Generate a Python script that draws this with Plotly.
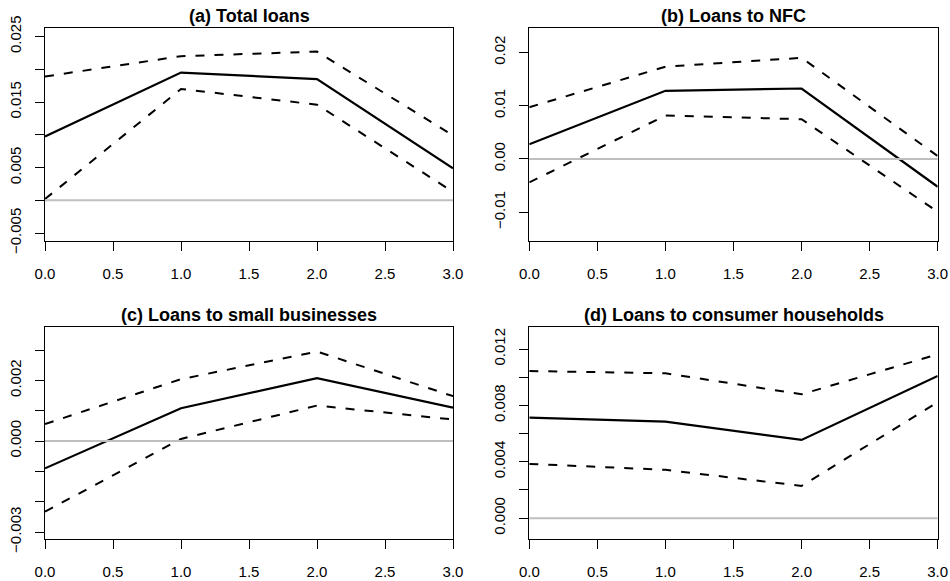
import plotly.graph_objects as go

W, H = 950, 581

# Horizon (quarters) shared by all four panels
horizon = [0, 1, 2, 3]

# (a) Total loans
a_est = [0.00975, 0.0195, 0.0185, 0.0049]
a_hi = [0.0189, 0.0220, 0.0227, 0.0099]
a_lo = [0.0002, 0.0170, 0.0146, 0.0013]

# (b) Loans to NFC
b_est = [0.00277, 0.0128, 0.01324, -0.00521]
b_hi = [0.00973, 0.01733, 0.0190, 0.00056]
b_lo = [-0.00439, 0.00816, 0.00747, -0.00992]

# (c) Loans to small businesses
c_est = [-0.00090, 0.00108, 0.00207, 0.00110]
c_hi = [0.00056, 0.00204, 0.00295, 0.00148]
c_lo = [-0.00233, 0.00007, 0.00117, 0.00071]

# (d) Loans to consumer households
d_est = [0.00713, 0.00685, 0.00555, 0.01009]
d_hi = [0.01044, 0.01028, 0.00879, 0.01162]
d_lo = [0.00385, 0.00343, 0.00229, 0.00822]

titles = ["(a) Total loans", "(b) Loans to NFC",
          "(c) Loans to small businesses", "(d) Loans to consumer households"]

x_ticks = [0, 0.5, 1, 1.5, 2, 2.5, 3]
x_labels = ["0.0", "0.5", "1.0", "1.5", "2.0", "2.5", "3.0"]

a_yticks = [-0.005, 0, 0.005, 0.01, 0.015, 0.02, 0.025]
a_ylabels = ["\u22120.005", "", "0.005", "", "0.015", "", "0.025"]
b_yticks = [-0.01, 0, 0.01, 0.02]
b_ylabels = ["\u22120.01", "0.00", "0.01", "0.02"]
c_yticks = [-0.003, -0.002, -0.001, 0, 0.001, 0.002, 0.003]
c_ylabels = ["\u22120.003", "", "", "0.000", "", "0.002", ""]
d_yticks = [0, 0.002, 0.004, 0.006, 0.008, 0.010, 0.012]
d_ylabels = ["0.000", "", "0.004", "", "0.008", "", "0.012"]

panels = [
    (a_est, a_hi, a_lo, a_yticks, a_ylabels, [-0.0062, 0.0263]),
    (b_est, b_hi, b_lo, b_yticks, b_ylabels, [-0.0154, 0.0246]),
    (c_est, c_hi, c_lo, c_yticks, c_ylabels, [-0.00324, 0.00375]),
    (d_est, d_hi, d_lo, d_yticks, d_ylabels, [-0.0015, 0.01354]),
]

# plot boxes in pixels: (left, right, top, bottom)
boxes = [
    (45, 453, 28, 241),
    (529.3, 937.7, 28, 241),
    (45, 453, 327.3, 539.3),
    (529.3, 937.7, 327.3, 539.3),
]

FONT = "Liberation Sans, Arial, Helvetica, sans-serif"
fig = go.Figure()
layout = dict(
    template="none",
    width=W, height=H,
    margin=dict(l=0, r=0, t=0, b=0, pad=0, autoexpand=False),
    paper_bgcolor="white", plot_bgcolor="white",
    showlegend=False,
    font=dict(family=FONT, size=15, color="black"),
)
annotations = []
shapes = []

for i, ((est, hi, lo, yt, yl, yr), (l, r, t, b)) in enumerate(zip(panels, boxes)):
    n = i + 1
    xa = "x" if n == 1 else f"x{n}"
    ya = "y" if n == 1 else f"y{n}"
    xkey = "xaxis" if n == 1 else f"xaxis{n}"
    ykey = "yaxis" if n == 1 else f"yaxis{n}"

    # confidence bands (dashed) and point estimate (solid)
    for series, dash, width in [(hi, "9px,10px", 2), (lo, "9px,10px", 2), (est, "solid", 2.2)]:
        fig.add_trace(go.Scatter(
            x=horizon, y=series, mode="lines", xaxis=xa, yaxis=ya,
            line=dict(color="black", width=width, dash=dash),
            hoverinfo="skip",
        ))

    layout[xkey] = dict(
        domain=[l / W, r / W], anchor=ya, range=[0, 3], automargin=False,
        tickmode="array", tickvals=x_ticks, ticktext=x_labels,
        ticks="outside", ticklen=9, tickwidth=1, tickcolor="black",
        showline=True, mirror=True, linecolor="black", linewidth=1,
        showgrid=False, zeroline=False, ticklabelstandoff=10,
        tickfont=dict(size=15, color="black"),
    )
    layout[ykey] = dict(
        domain=[1 - b / H, 1 - t / H], anchor=xa, range=yr, automargin=False,
        tickmode="array", tickvals=yt, ticktext=yl, tickangle=-90,
        ticks="outside", ticklen=9, tickwidth=1, tickcolor="black",
        showline=True, mirror=True, linecolor="black", linewidth=1,
        showgrid=False, zeroline=False, ticklabelstandoff=8,
        tickfont=dict(size=15, color="black"),
    )

    # horizontal reference at zero
    shapes.append(dict(
        type="line", xref=f"{xa} domain", yref=ya, x0=0, x1=1, y0=0, y1=0,
        line=dict(color="#BEBEBE", width=2), layer="above",
    ))

    annotations.append(dict(
        text=f"<b>{titles[i]}</b>", xref="paper", yref="paper",
        x=(l + r) / 2 / W, y=1 - (t - 12) / H,
        xanchor="center", yanchor="middle", showarrow=False,
        font=dict(size=18, family=FONT, color="black"),
    ))

layout["annotations"] = annotations
layout["shapes"] = shapes
fig.update_layout(**layout)
fig.write_html("out.html")
